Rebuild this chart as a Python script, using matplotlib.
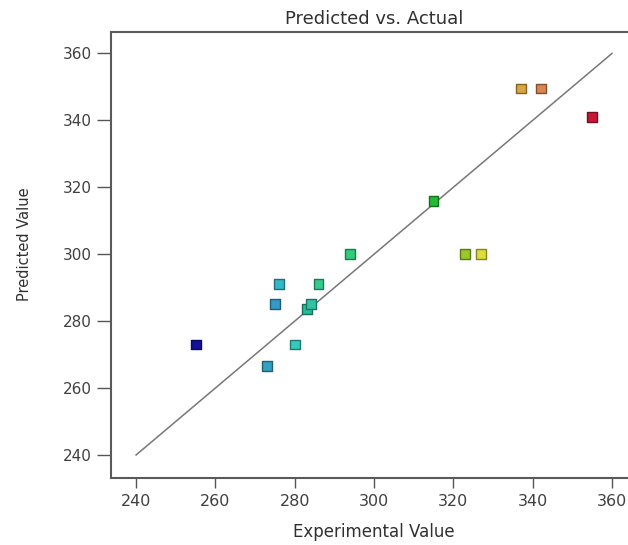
import matplotlib
matplotlib.use("Agg")
import matplotlib.pyplot as plt
import matplotlib.colors as mcolors
import numpy as np

# Data
actual = [255, 273, 275, 276, 280, 283, 284, 286, 294, 315, 323, 327, 337, 342, 355]
predicted = [273, 266.5, 285, 291, 273, 283.5, 285, 291, 300, 316, 300, 300, 349.5, 349.5, 341]
point_colors = ["#12129c", "#35a0c2", "#3599c8", "#33b8c8", "#36cabb", "#26bb98",
                "#33c2a2", "#33cc8c", "#30cc78", "#22bb33", "#99c82a", "#dcdc3a",
                "#d9a640", "#d98650", "#c81535"]
ref_line = [240, 360]
ticks = [240, 260, 280, 300, 320, 340, 360]

title = "Predicted vs. Actual"
xlabel = "Experimental Value"
ylabel = "Predicted Value"

plt.rcParams['font.family'] = ['DejaVu Sans']

fig = plt.figure(figsize=(6.28, 5.45), dpi=100)
ax = fig.add_axes([0.1763, 0.1235, 0.8387, 0.8178])

ax.plot(ref_line, ref_line, color="#777777", lw=1.1, zorder=1)

edges = [tuple(np.array(mcolors.to_rgb(c)) * 0.6) for c in point_colors]
ax.scatter(actual, predicted, s=50, marker="s", c=point_colors,
           edgecolors=edges, linewidths=1.0, zorder=3)

ax.set_xlim(233.6, 366.4)
ax.set_ylim(233.2, 366.4)
ax.set_xticks(ticks)
ax.set_yticks(ticks)

for s in ax.spines.values():
    s.set_color("#5a5a5a")
    s.set_linewidth(1.5)
ax.spines["right"].set_visible(False)

ax.tick_params(axis="x", length=7, width=1, color="#555555", labelsize=11.5,
               labelcolor="#404040", pad=4.5)
ax.tick_params(axis="y", length=10, width=1, color="#555555", labelsize=11,
               labelcolor="#404040", pad=3.5)

ax.set_title(title, fontsize=13, color="#303030", pad=5.5)
ax.set_xlabel(xlabel, fontsize=12, color="#303030", labelpad=10)
ax.set_ylabel(ylabel, fontsize=10.5, color="#303030")
ax.yaxis.set_label_coords(-0.149, 0.524)

fig.savefig("out.png", dpi=100)
